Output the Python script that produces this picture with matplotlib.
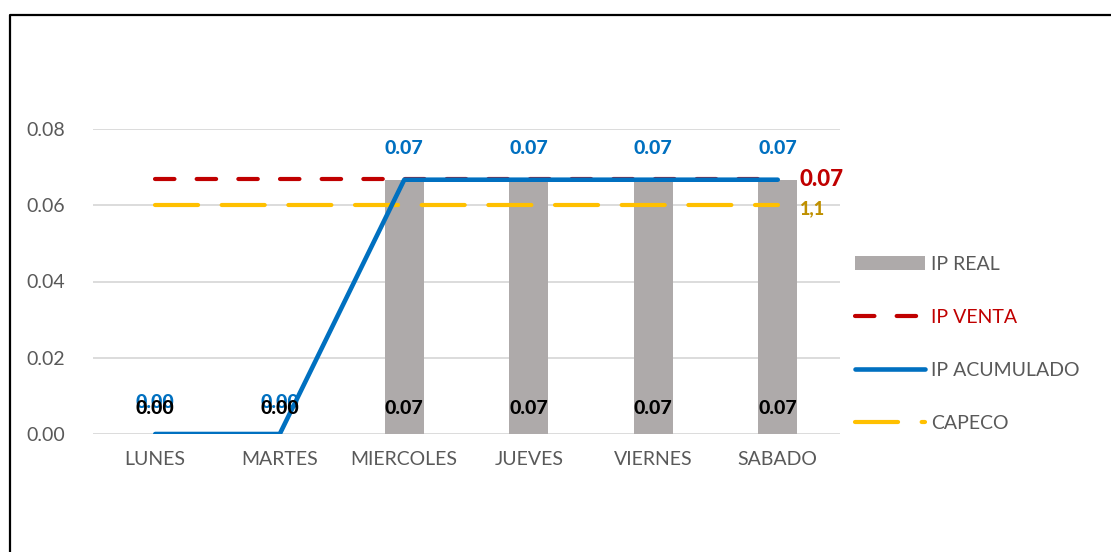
import matplotlib.pyplot as plt
import matplotlib.lines as mlines
import numpy as np

plt.rcParams['font.family'] = ['Lato', 'DejaVu Sans']
plt.rcParams['lines.scale_dashes'] = False

dias = ["LUNES", "MARTES", "MIERCOLES", "JUEVES", "VIERNES", "SABADO"]
ipReal = [0.0, 0.0, 0.0667, 0.0667, 0.0667, 0.0667]
ipVenta = [0.067, 0.067, 0.067, 0.067, 0.067, 0.067]
ipAcumulado = [0.0, 0.0, 0.0667, 0.0667, 0.0667, 0.0667]
capeco = [0.06, 0.06, 0.06, 0.06, 0.06, 0.06]
yTicks = [0.0, 0.02, 0.04, 0.06, 0.08]

fig = plt.figure(figsize=(11.11, 5.52), dpi=100)
ax = fig.add_axes([93 / 1111, 1 - 434 / 552, (840 - 93) / 1111, (434 - 129) / 552])

x = np.arange(len(dias))
grey = "#AEAAAA"
red = "#C00000"
blue = "#0070C0"
yellow = "#FFC000"

bars = ax.bar(x, ipReal, width=0.31, color=grey, label="IP REAL", zorder=2)
lVenta, = ax.plot(x, ipVenta, color=red, lw=3, dashes=(14, 16), dash_capstyle="round", label="IP VENTA", zorder=3)
lAcum, = ax.plot(x, ipAcumulado, color=blue, lw=3.3, solid_capstyle="round", label="IP ACUMULADO", zorder=4)
lCapeco, = ax.plot(x, capeco, color=yellow, lw=3, dashes=(31, 17), dash_capstyle="round", label="CAPECO", zorder=3)

# data labels
for i in range(len(dias)):
    ax.annotate(f"{ipReal[i]:.2f}", (x[i], 0), xytext=(0, 25), textcoords="offset pixels",
                ha="center", va="center", fontsize=14, fontweight="black", color="black", zorder=6)
    ax.annotate(f"{ipAcumulado[i]:.2f}", (x[i], ipAcumulado[i]), xytext=(0, 31), textcoords="offset pixels",
                ha="center", va="center", fontsize=14, fontweight="black", color=blue, zorder=5)
ax.annotate(f"{ipVenta[-1]:.2f}", (x[-1], ipVenta[-1]), xytext=(22, -1), textcoords="offset pixels",
            ha="left", va="center", fontsize=16, fontweight="black", color=red)
ax.annotate("1,1", (x[-1], capeco[-1]), xytext=(22, -3), textcoords="offset pixels",
            ha="left", va="center", fontsize=13, fontweight="black", color="#BF9000")

ax.set_xlim(-0.5, len(dias) - 0.5)
ax.set_ylim(0, 0.08)
ax.set_yticks(yTicks)
ax.set_yticklabels([f"{v:.2f}" for v in yTicks])
ax.set_xticks(x)
ax.set_xticklabels(dias)
ax.tick_params(length=0, labelsize=14, labelcolor="#595959")
ax.tick_params(axis="y", pad=20)
ax.tick_params(axis="x", pad=12)
ax.yaxis.grid(True, color="#D9D9D9", lw=1.3, zorder=0)
for s in ax.spines.values():
    s.set_visible(False)

leg = ax.legend([bars, lVenta, lAcum, lCapeco], ["IP REAL", "IP VENTA", "IP ACUMULADO", "CAPECO"],
                loc="upper left", bbox_to_anchor=(1.01, 0.61), frameon=False, fontsize=14,
                handlelength=3.6, handletextpad=0.3, labelspacing=1.85, borderaxespad=0)
for t in leg.get_texts():
    t.set_color("#595959")
leg.get_texts()[1].set_color(red)

# outer border
fig.add_artist(mlines.Line2D([10 / 1111, 10 / 1111, 1.0], [0, 1 - 15 / 552, 1 - 15 / 552],
                             transform=fig.transFigure, color="black", lw=1.6))

fig.savefig("out.png", dpi=100)
